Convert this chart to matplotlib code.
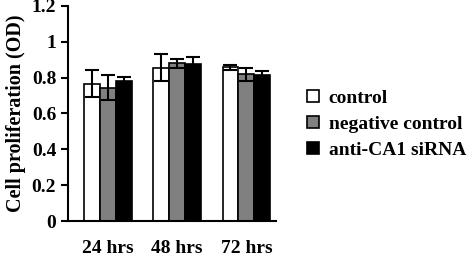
import matplotlib.pyplot as plt
import numpy as np

groups = ['24 hrs', '48 hrs', '72 hrs']
series = ['control', 'negative control', 'anti-CA1 siRNA']
control = [0.765, 0.855, 0.857]
negative = [0.745, 0.88, 0.818]
anti_ca1 = [0.783, 0.875, 0.813]
control_err = [0.075, 0.075, 0.015]
negative_err = [0.07, 0.025, 0.035]
anti_ca1_err = [0.02, 0.04, 0.025]
colors = ['white', '#808080', 'black']

plt.rcParams['font.family'] = 'Liberation Serif'
plt.rcParams['font.weight'] = 'bold'

fig = plt.figure(figsize=(4.72, 2.6), dpi=100)
ax = fig.add_axes([0.144, 0.15, 0.441, 0.827])

x = np.arange(len(groups))
w = 0.23
vals = [control, negative, anti_ca1]
errs = [control_err, negative_err, anti_ca1_err]
for i in range(3):
    ax.bar(x + (i - 1) * w, vals[i], w, color=colors[i], edgecolor='black',
           linewidth=1.2, label=series[i])
    ax.errorbar(x + (i - 1) * w, vals[i], yerr=errs[i], fmt='none',
                ecolor='black', elinewidth=1.5, capsize=5, capthick=1.5)

ax.set_xlim(-0.58, 2.43)
ax.set_ylim(0, 1.2)
ax.set_yticks([0, 0.2, 0.4, 0.6, 0.8, 1, 1.2])
ax.set_yticklabels(['0', '0.2', '0.4', '0.6', '0.8', '1', '1.2'])
ax.set_xticks(x)
ax.set_xticklabels(groups)
ax.tick_params(axis='x', length=0, pad=14, labelsize=14)
ax.tick_params(axis='y', length=5, width=1.5, labelsize=14, direction='out')
ax.spines['top'].set_visible(False)
ax.spines['right'].set_visible(False)
ax.spines['left'].set_linewidth(1.5)
ax.spines['bottom'].set_linewidth(1.5)
ax.set_ylabel('Cell proliferation (OD)', fontsize=14.5, fontweight='bold',
              labelpad=4)

ax.legend(loc='center left', bbox_to_anchor=(1.065, 0.45), frameon=False,
          fontsize=14, handlelength=0.6, handleheight=0.6, handletextpad=0.5,
          labelspacing=0.45)

fig.savefig('out.png', dpi=100)
